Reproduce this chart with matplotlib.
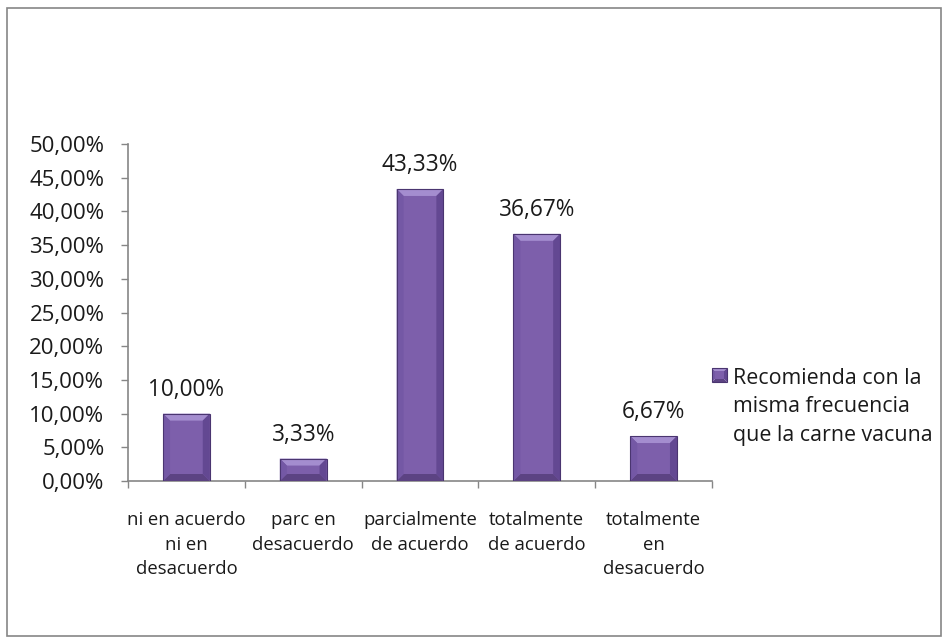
import numpy as np
import matplotlib.pyplot as plt
from matplotlib.patches import Polygon, Rectangle
from matplotlib.transforms import IdentityTransform
from matplotlib.ticker import FuncFormatter

categories = [["ni en acuerdo", "ni en", "desacuerdo"],
              ["parc en", "desacuerdo"],
              ["parcialmente", "de acuerdo"],
              ["totalmente", "de acuerdo"],
              ["totalmente", "en", "desacuerdo"]]
values = [10.00, 3.33, 43.33, 36.67, 6.67]
series_name = ["Recomienda con la", "misma frecuencia", "que la carne vacuna"]

plt.rcParams['font.family'] = ['Open Sans', 'DejaVu Sans']
TXT = "#1a1a1a"
GRAY = "#868686"
W, H = 948, 643

def fx(px):
    return px / W

def fy(py):
    return 1 - py / H

def pct(v):
    return f"{v:.2f}%".replace(".", ",")

def bevel(parent, L, B, R, T, b):
    # Excel-like bevelled box, coordinates in display pixels
    faces = [
        ([(L + b, B + b), (R - b, B + b), (R - b, T - b), (L + b, T - b)], "#7D5FAB"),
        ([(L, T), (R, T), (R - b, T - b), (L + b, T - b)], "#A48DCF"),
        ([(L, B), (R, B), (R - b, B + b), (L + b, B + b)], "#5C4383"),
        ([(L, B), (L + b, B + b), (L + b, T - b), (L, T)], "#7458A5"),
        ([(R, B), (R - b, B + b), (R - b, T - b), (R, T)], "#634892"),
    ]
    for pts, c in faces:
        parent.add_artist(Polygon(pts, closed=True, facecolor=c, edgecolor="none",
                                  transform=IdentityTransform(), zorder=3))
    parent.add_artist(Rectangle((L, B), R - L, T - B, fill=False, edgecolor="#4A3570",
                                linewidth=0.8, transform=IdentityTransform(), zorder=4))

fig = plt.figure(figsize=(9.48, 6.43), dpi=100)
ax = fig.add_axes([fx(128), fy(481), (712 - 128) / W, (481 - 144) / H])

x = np.arange(len(values))
bars = ax.bar(x, values, width=0.4, color="#7D5FAB", zorder=2)

ax.set_xlim(-0.5, len(values) - 0.5)
ax.set_ylim(0, 50)

for b in bars:
    (L, B), (R, T) = ax.transData.transform([(b.get_x(), 0),
                                             (b.get_x() + b.get_width(), b.get_height())])
    bevel(ax, L, B, R, T, min(7, (T - B) / 3))

for xi, v in zip(x, values):
    ax.annotate(pct(v), (xi, v), xytext=(0, 13), textcoords="offset points",
                ha="center", va="baseline", fontsize=16.3, color=TXT)

ax.set_yticks(np.arange(0, 50.1, 5))
ax.yaxis.set_major_formatter(FuncFormatter(lambda v, p: pct(v)))
ax.set_xticks(np.arange(-0.5, len(values), 1))
ax.set_xticklabels([])
ax.tick_params(axis="y", direction="out", length=5, width=1, color=GRAY,
               labelsize=16, labelcolor=TXT, pad=12)
ax.tick_params(axis="x", direction="out", length=5, width=1, color=GRAY)
for lab in ax.get_yticklabels():
    lab.set_verticalalignment("center_baseline")

for xi, lines in zip(x, categories):
    for k, line in enumerate(lines):
        ax.annotate(line, (xi, 0), xytext=(0, -32 - k * 17.5), textcoords="offset points",
                    ha="center", va="baseline", fontsize=13.3, color=TXT)

for s in ["top", "right"]:
    ax.spines[s].set_visible(False)
for s in ["left", "bottom"]:
    ax.spines[s].set_color(GRAY)
    ax.spines[s].set_linewidth(1.2)

# legend
fig.canvas.draw()
bevel(fig, 712, H - 382, 727, H - 368, 3)
for k, line in enumerate(series_name):
    fig.text(fx(733), fy(384 + k * 28.5), line, ha="left", va="baseline",
             fontsize=15.4, color=TXT)

# outer border
fig.patches.append(Rectangle((fx(7), fy(636)), (941 - 7) / W, (636 - 8) / H,
                             transform=fig.transFigure, fill=False,
                             edgecolor=GRAY, linewidth=1.2))

fig.savefig("out.png", dpi=100)
